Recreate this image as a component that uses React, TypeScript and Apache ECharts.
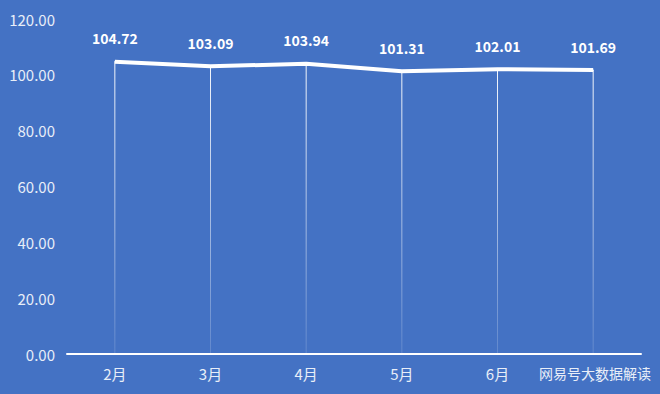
import React, { useEffect, useRef } from "react";
import * as echarts from "echarts";

const categories = ["2月", "3月", "4月", "5月", "6月", "7月"];
const values = [104.72, 103.09, 103.94, 101.31, 102.01, 101.69];
const yTicks = [0, 20, 40, 60, 80, 100, 120];
const watermark = "网易号大数据解读";

export default function App() {
  const ref = useRef<HTMLDivElement>(null);
  useEffect(() => {
    if (!ref.current) return;
    const chart = echarts.init(ref.current, null, { renderer: "svg" });
    chart.setOption({
      animation: false,
      backgroundColor: "#4472C4",
      textStyle: { fontFamily: "Noto Sans CJK SC, Noto Sans, sans-serif" },
      grid: { left: 67, right: 19, top: 19, bottom: 40 },
      xAxis: {
        type: "category",
        data: categories,
        boundaryGap: true,
        axisLine: { lineStyle: { color: "#ffffff", width: 2 } },
        axisTick: { show: false },
        axisLabel: { color: "#e8eef8", fontSize: 15, margin: 12 },
      },
      yAxis: {
        type: "value",
        min: yTicks[0],
        max: yTicks[yTicks.length - 1],
        interval: 20,
        splitLine: { show: false },
        axisLine: { show: false },
        axisTick: { show: false },
        axisLabel: {
          color: "#e8eef8",
          fontSize: 15,
          margin: 12,
          formatter: (v: number) => v.toFixed(2),
        },
      },
      series: [
        {
          type: "bar",
          data: values,
          barWidth: 1,
          silent: true,
          itemStyle: {
            color: new echarts.graphic.LinearGradient(0, 0, 0, 1, [
              { offset: 0, color: "rgba(255,255,255,0.95)" },
              { offset: 1, color: "rgba(255,255,255,0.15)" },
            ]),
          },
          z: 1,
        },
        {
          type: "line",
          data: values,
          symbol: "circle",
          symbolSize: 1,
          showSymbol: true,
          itemStyle: { color: "#ffffff" },
          lineStyle: { color: "#ffffff", width: 4 },
          label: {
            show: true,
            position: "top",
            distance: 16,
            color: "#ffffff",
            fontSize: 14,
            fontWeight: "bold",
            formatter: (p: any) => Number(p.value).toFixed(2),
          },
          z: 3,
        },
      ],
      graphic: [
        {
          type: "text",
          left: 539,
          top: 366,
          style: {
            text: watermark,
            fill: "#e8eef8",
            fontSize: 14,
            fontFamily: "Noto Sans CJK SC, sans-serif",
            backgroundColor: "#4472C4",
          },
          z: 10,
        },
      ],
    });
    return () => chart.dispose();
  }, []);
  return <div ref={ref} style={{ width: 660, height: 394, position: "absolute", left: 0, top: 0 }} />;
}
